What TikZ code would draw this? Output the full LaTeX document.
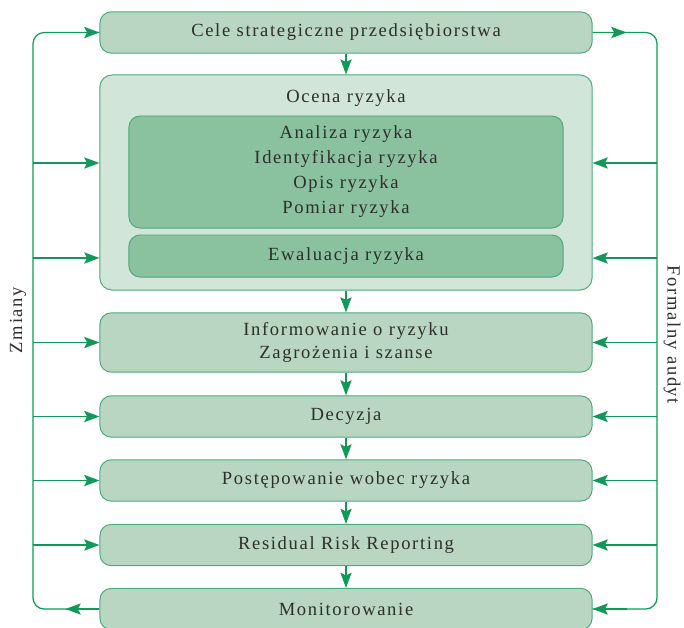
\documentclass[tikz,border=0pt]{standalone}
\usepackage{fontspec}
\setmainfont{Liberation Serif}[LetterSpace=9]
\usetikzlibrary{positioning, arrows.meta}
\definecolor{boxfill}{HTML}{B8D6C2}
\definecolor{outerfill}{HTML}{D1E5D8}
\definecolor{innerfill}{HTML}{8AC19E}
\definecolor{boxline}{HTML}{4DAA7A}
\definecolor{flowgreen}{HTML}{12995A}
\definecolor{textgray}{HTML}{2E2E2E}
\tikzset{
    flow/.style={draw=flowgreen, line width=0.9pt, -{Stealth[length=3.8mm, width=2.8mm, inset=0.7mm]}}, % arrows
    rail/.style={draw=flowgreen, line width=0.9pt, rounded corners=0.28cm},
    stepbox/.style={draw=boxline, line width=0.7pt, fill=boxfill, rounded corners=0.28cm,
        minimum width=12.3cm, minimum height=1.03cm, align=center, text=textgray,
        font=\fontsize{13.2}{17}\selectfont},
    outerbox/.style={draw=boxline, line width=0.7pt, fill=outerfill, rounded corners=0.3cm,
        minimum width=12.3cm, minimum height=5.375cm},
    innerbox/.style={stepbox, fill=innerfill, minimum width=10.85cm},
    sidelabel/.style={text=textgray, font=\fontsize{13.2}{15}\selectfont},
}
\begin{document}
\begin{tikzpicture}[x=0.025cm, y=-0.025cm]
  \useasboundingbox (0,0) rectangle (684,627);

  \node[stepbox] (cele) at (346,32.5) {Cele strategiczne przedsiębiorstwa};

  \node[outerbox] (ocena) at (346,182.5) {};
  \node[text=textgray, font=\fontsize{13.2}{17}\selectfont] (ocenat) at (346,98) {Ocena ryzyka};
  \node[innerbox, minimum height=2.8cm, font=\fontsize{13.2}{17.8}\selectfont] (ana) at (346,172)
    {Analiza ryzyka\\Identyfikacja ryzyka\\Opis ryzyka\\Pomiar ryzyka};
  \node[innerbox, minimum height=1.05cm] (ewal) at (346,256) {Ewaluacja ryzyka};

  \node[stepbox, minimum height=1.48cm, font=\fontsize{13.2}{16.4}\selectfont] (info) at (346,342.5)
    {Informowanie o ryzyku\\Zagrożenia i szanse};
  \node[stepbox] (dec) at (346,416.5) {Decyzja};
  \node[stepbox] (post) at (346,480.5) {Postępowanie wobec ryzyka};
  \node[stepbox] (resid) at (346,545) {Residual Risk Reporting};
  \node[stepbox] (mon) at (346,609) {Monitorowanie};

  % main flow
  \draw[flow] (cele) -- (ocena);
  \draw[flow] (ocena) -- (info);
  \draw[flow] (info) -- (dec);
  \draw[flow] (dec) -- (post);
  \draw[flow] (post) -- (resid);
  \draw[flow] (resid) -- (mon);

  % side rails
  \coordinate (L) at (33,0);
  \coordinate (R) at (657,0);
  \coordinate (o1) at (0,163);
  \coordinate (o2) at (0,258);

  \draw[rail] (mon.west) -- (L |- mon) -- (L |- cele) -- (cele.west);
  \draw[flow] (L |- cele) ++(30,0) -- (cele.west);
  \draw[flow] (mon.west) -- ++(-34,0);
  \draw[rail] (cele.east) -- (R |- cele) -- (R |- mon) -- (mon.east);
  \draw[flow] (cele.east) -- ++(34,0);
  \draw[flow] (R |- mon) ++(-30,0) -- (mon.east);

  \foreach \y in {o1,o2} {
    \draw[flow] (L |- \y) -- (ocena.west |- \y);
    \draw[flow] (R |- \y) -- (ocena.east |- \y);
  }
  \foreach \n in {info,dec,post,resid} {
    \draw[flow] (L |- \n) -- (\n.west);
    \draw[flow] (R |- \n) -- (\n.east);
  }

  \node[sidelabel, rotate=90] (zmiany) at (18,320) {Zmiany};
  \node[sidelabel, rotate=-90] (audyt) at (672,335) {Formalny audyt};
\end{tikzpicture}
\end{document}
